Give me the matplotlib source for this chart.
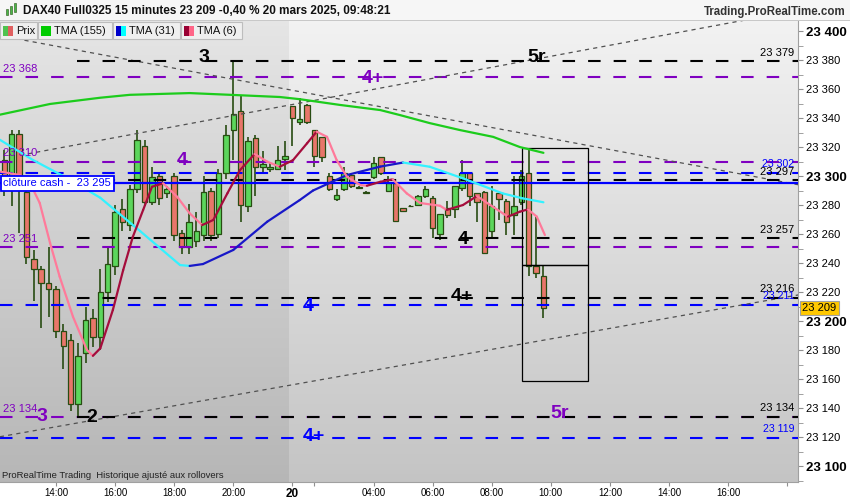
import numpy as np
import matplotlib.pyplot as plt
import matplotlib.transforms as mtransforms
from matplotlib.collections import LineCollection
from matplotlib.patches import Rectangle

plt.rcParams["font.family"] = ["Liberation Sans", "DejaVu Sans"]
plt.rcParams["lines.scale_dashes"] = False

# 15 minute candles, index 0 = 19 mars 12:15, index 39 = 20 mars 01:15
opens = [23311, 23292, 23329, 23289, 23243, 23236, 23226, 23222, 23193, 23187,
         23143, 23178, 23202, 23189, 23220, 23238, 23277, 23266, 23291, 23321,
         23282, 23300, 23288, 23300, 23261, 23251, 23255, 23259, 23290, 23260,
         23302, 23332, 23345, 23279, 23326, 23306, 23305, 23305, 23312, 23348,
         23337, 23349, 23332, 23327, 23300, 23284, 23291, 23301, 23292.5, 23288.7,
         23299, 23313, 23290, 23295, 23278, 23279.2, 23280, 23286, 23285, 23260,
         23278, 23277, 23292, 23302, 23288, 23289, 23262, 23288, 23283, 23273,
         23282, 23302, 23238, 23231]
highs = [23318, 23332, 23332, 23295, 23249, 23238, 23251, 23224, 23198, 23191,
         23185, 23210, 23208, 23236, 23252, 23280, 23284, 23294, 23332, 23325,
         23306, 23302, 23293, 23302, 23263, 23281, 23275, 23300, 23292, 23305,
         23335, 23379, 23355, 23327, 23328, 23317, 23309, 23321, 23324, 23348,
         23354, 23350, 23332, 23327, 23302, 23291, 23306, 23302, 23293, 23289.5,
         23313, 23313, 23300, 23296, 23278, 23280, 23287, 23293, 23286, 23274,
         23283, 23293, 23311, 23302, 23288, 23290, 23293, 23288, 23284, 23300,
         23304, 23319, 23272, 23238]
lows = [23286, 23279, 23261, 23239, 23214, 23195, 23203, 23188, 23167, 23138,
        23134, 23171, 23182, 23180, 23213, 23232, 23262, 23262, 23288, 23279,
        23280, 23280, 23285, 23255, 23246, 23246, 23251, 23255, 23255, 23257,
        23298, 23311, 23268, 23275, 23286, 23303, 23303, 23304, 23304, 23321,
        23335, 23336, 23306, 23310, 23290, 23283, 23290, 23292, 23291.5, 23288,
        23298, 23301, 23289, 23268, 23275, 23278.5, 23279, 23285, 23257, 23256,
        23271, 23271, 23290, 23279, 23268, 23246, 23257, 23270, 23259, 23259,
        23280, 23231, 23230, 23202]
closes = [23293, 23329, 23291, 23244, 23236, 23226, 23222, 23193, 23183, 23143,
          23176, 23201, 23189, 23220, 23239, 23275, 23268, 23291, 23325, 23282,
          23299, 23285, 23291, 23259, 23251, 23268, 23262, 23289, 23259, 23302,
          23328, 23343, 23280, 23324, 23306, 23308, 23306, 23311, 23314, 23340,
          23339, 23337, 23314, 23313, 23291, 23287, 23302, 23293, 23292, 23288.5,
          23309, 23302, 23295, 23269, 23276, 23279, 23286, 23291, 23264, 23274,
          23273, 23293, 23302, 23286, 23282, 23247, 23279, 23284, 23268, 23279,
          23300, 23238, 23233, 23209]

# moving averages (candle index, price)
tma155_x = [-0.6, 6.2, 13, 17, 25.1, 30.6, 37.3, 40, 45.5, 50.9, 53.6, 57.6, 61.7, 66.2, 69.8, 73]
tma155_y = [23342.3, 23349.7, 23354, 23356, 23357.2, 23356, 23354.5, 23353, 23349, 23345.5,
            23342, 23336.5, 23331.7, 23327, 23320, 23316]
tma31_x = [-0.6, 3.9, 8.5, 13, 18.4, 23.8, 25.1, 26.9, 31, 35.6, 40, 41.8, 46.4, 50.9, 54,
           57.6, 62.1, 67.5, 70.2, 73]
tma31_y = [23325, 23311, 23298.6, 23285, 23262, 23238.6, 23238, 23239.3, 23249, 23268.5,
           23283.4, 23290, 23300.7, 23306.5, 23309.3, 23306.4, 23298.4, 23288, 23284.6, 23281.9]
tma6_x = [-0.5, 2.1, 3.5, 4.8, 6.2, 7.5, 9.3, 11.2, 12, 13, 14.7, 16.1, 17.4, 18.8, 20, 21.5,
          23.4, 25.1, 26.8, 28.3, 30.2, 31.9, 33.9, 35.6, 37.3, 39.1, 41, 42.3, 43.7, 45, 46.4,
          48.2, 49.1, 50.9, 52.6, 54.5, 56.3, 59, 59.9, 62.1, 64, 65.8, 67.5, 68.2, 69.8, 70.9,
          72.1, 73.2]
tma6_y = [23303, 23300.7, 23295, 23281.4, 23253.8, 23230.6, 23203, 23180, 23176, 23181.2,
          23207.6, 23235.2, 23258, 23276.6, 23292.6, 23295, 23285.7, 23274.3, 23266.2, 23269.7,
          23288, 23304, 23315.2, 23309.9, 23306.4, 23311, 23322.6, 23330.6, 23327, 23311,
          23299.5, 23293.8, 23293.3, 23296, 23297.7, 23288, 23281.4, 23279.5, 23276.6, 23280,
          23286.2, 23280, 23274.3, 23272, 23275.4, 23277, 23272, 23259.3]

tick_pos = [7, 15, 23, 31, 39, 42, 50, 58, 66, 74, 82, 90, 98, 106]
tick_labels = ["14:00", "16:00", "18:00", "20:00", "20", "", "04:00", "06:00",
               "08:00", "10:00", "12:00", "14:00", "16:00", ""]

black_levels = [23379, 23297, 23257, 23216, 23134]
purple_levels = [23368, 23310, 23251, 23134]
blue_levels = [23302, 23211, 23119]
cash_close = 23295
last_price = 23209

# trend lines: (x0, y0, x1, y1)
trend_lines = [(3.2, 23315.3, 107.5, 23414.4),
               (-0.6, 23396.8, 107.5, 23294.0),
               (-0.6, 23120.2, 107.5, 23218.0)]

# wave labels: text, x, price, colour
wave_labels = [("3", 27, 23382, "black"), ("5r", 72.1, 23382, "black"),
               ("4+", 49.9, 23367.6, "#7f00c0"), ("4", 24.1, 23311, "#7f00c0"),
               ("4", 62.1, 23255.9, "black"), ("4+", 62, 23217, "black"),
               ("4", 41.1, 23210.3, "#0000ff"), ("2", 11.9, 23133.8, "black"),
               ("3", 5.1, 23134.5, "#7f00c0"), ("5r", 75.2, 23135.9, "#7f00c0"),
               ("4+", 41.9, 23120.7, "#0000ff")]

boxes = [(70.1, 23238.4, 79.1, 23319.1), (70.1, 23158.6, 79.1, 23238.4)]

PURPLE = "#7f00c0"
BLUE = "#0000ff"
XMIN, XMAX = -0.58, 107.47
YMIN, YMAX = 23089.0, 23407.6


def fmt(v):
    return f"{int(v) // 1000} {int(v) % 1000:03d}"


def two_color_line(ax, xs, ys, up, down, lw):
    pts = np.column_stack([xs, ys])
    segs = np.stack([pts[:-1], pts[1:]], axis=1)
    cols = [up if s[1][1] >= s[0][1] else down for s in segs]
    ax.add_collection(LineCollection(segs, colors=cols, linewidths=lw,
                                     capstyle="round", joinstyle="round", zorder=6))


def fig_rect(fig, x, y, w, h, **kw):
    fig.patches.append(Rectangle((x / 850, 1 - (y + h) / 500), w / 850, h / 500,
                                 transform=fig.transFigure, **kw))


def fig_text(fig, x, y, s, **kw):
    fig.text(x / 850, 1 - y / 500, s, **kw)


fig = plt.figure(figsize=(8.5, 5), dpi=100)
ax = fig.add_axes([0, 18 / 500, 798 / 850, 462 / 500])

# background: previous day slightly darker
t = np.linspace(0, 1, 200).reshape(-1, 1, 1)
for x0, x1, top, bot in [(XMIN, 38.5, 0.90, 0.715), (38.5, XMAX, 0.95, 0.77)]:
    img = np.repeat(top + (bot - top) * t, 3, axis=2) * np.ones((1, 2, 1))
    ax.imshow(img, extent=[x0, x1, YMIN, YMAX], aspect="auto", zorder=0,
              interpolation="bilinear")

# candles
for i in range(len(opens)):
    o, h, l, c = opens[i], highs[i], lows[i], closes[i]
    ax.vlines(i, l, h, color="#284c12", lw=1.2, zorder=3)
    up = c >= o
    ax.add_patch(Rectangle((i - 0.37, min(o, c)), 0.74, max(abs(c - o), 0.5),
                           facecolor="#5cd65c" if up else "#e8766a",
                           edgecolor="#284c12", lw=0.9, zorder=3.2))

# horizontal levels
dash = (0, (9, 9.4))
for lv in purple_levels:
    ax.hlines(lv, XMIN, XMAX, color=PURPLE, lw=1.5, linestyle=dash, zorder=4)
for lv in blue_levels:
    ax.hlines(lv, XMIN, XMAX, color=BLUE, lw=1.5, linestyle=dash, zorder=4)
for lv in black_levels:
    ax.hlines(lv, 9.8, XMAX, color="black", lw=1.5, linestyle=dash, zorder=4.1)
ax.axhline(cash_close, color=BLUE, lw=1.6, zorder=4.2)

for x0, y0, x1, y1 in trend_lines:
    ax.plot([x0, x1], [y0, y1], color="#505050", lw=0.9, linestyle=(0, (3, 3)), zorder=4)

for x0, y0, x1, y1 in boxes:
    ax.add_patch(Rectangle((x0, y0), x1 - x0, y1 - y0, fill=False,
                           edgecolor="black", lw=0.9, zorder=5))

# moving averages
ax.plot(tma155_x, tma155_y, color="#1ccc1c", lw=1.6, zorder=6, solid_capstyle="round")
two_color_line(ax, tma31_x, tma31_y, "#1818c8", "#33f2ff", 1.6)
two_color_line(ax, tma6_x, tma6_y, "#a50d3c", "#ff7a9a", 1.6)

for s, x, y, col in wave_labels:
    ax.text(x, y, s, color=col, fontsize=14, fontweight="bold",
            ha="center", va="center", zorder=7)

left = mtransforms.blended_transform_factory(ax.transAxes, ax.transData)
for lv in purple_levels:
    ax.annotate(fmt(lv), xy=(0, lv), xycoords=left, xytext=(2.5, 2.2),
                textcoords="offset points", color=PURPLE, fontsize=8, va="bottom",
                zorder=7)
for lv in black_levels:
    ax.annotate(fmt(lv), xy=(1, lv), xycoords=left, xytext=(-2.5, 2.5),
                textcoords="offset points", color="black", fontsize=8, va="bottom",
                ha="right", zorder=7)
for lv in blue_levels:
    ax.annotate(fmt(lv), xy=(1, lv), xycoords=left, xytext=(-2.5, 3.0),
                textcoords="offset points", color=BLUE, fontsize=7.6, va="bottom",
                ha="right", zorder=7)

ax.annotate("clôture cash -  " + fmt(cash_close), xy=(0, cash_close), xycoords=left,
            xytext=(2.5, 0), textcoords="offset points", color=BLUE, fontsize=8,
            va="center", zorder=8,
            bbox=dict(boxstyle="square,pad=0.22", facecolor="white", edgecolor=BLUE, lw=1.3))

ax.annotate(fmt(last_price), xy=(1, last_price), xycoords=left, xytext=(3, 0),
            textcoords="offset points", color="black", fontsize=8, va="center",
            annotation_clip=False, zorder=8,
            bbox=dict(boxstyle="square,pad=0.2", facecolor="#ffc800", edgecolor="#a0a0a0", lw=0.8))

ax.set_xlim(XMIN, XMAX)
ax.set_ylim(YMIN, YMAX)

# price axis
ax.yaxis.tick_right()
yt = list(range(23100, 23401, 20))
ax.set_yticks(yt)
ax.set_yticks(range(23090, 23401, 10), minor=True)
ax.set_yticklabels([fmt(v) for v in yt])
for lab, v in zip(ax.get_yticklabels(), yt):
    if v % 100 == 0:
        lab.set_fontweight("bold")
        lab.set_fontsize(9.5)
    else:
        lab.set_fontsize(8)
ax.tick_params(axis="y", which="both", length=3.5, color="#909090", pad=2.5)

# time axis
ax.set_xticks(tick_pos)
ax.set_xticklabels(tick_labels, fontsize=7, family=["Liberation Sans Narrow", "Liberation Sans"])
for lab in ax.get_xticklabels():
    if lab.get_text() == "20":
        lab.set_fontweight("bold")
        lab.set_fontsize(8.5)
ax.tick_params(axis="x", length=3, color="#909090", pad=1.5)

for side in ["top", "left"]:
    ax.spines[side].set_visible(False)
for side in ["right", "bottom"]:
    ax.spines[side].set_color("#a0a0a0")

# header
fig_rect(fig, 0, 0, 850, 20, facecolor="#f6f6f6", edgecolor="none", zorder=1)
fig_rect(fig, 0, 20, 850, 1, facecolor="#c8c8c8", edgecolor="none", zorder=1)
for k, (yy, hh) in enumerate([(9, 6), (6, 8), (3, 9)]):
    fig_rect(fig, 6 + k * 4, yy, 2, hh, facecolor="#48b848", edgecolor="#2b5216", lw=0.4, zorder=2)
fig_text(fig, 23, 11.5, "DAX40 Full0325 15 minutes 23 209 -0,40 % 20 mars 2025, 09:48:21",
         fontsize=8.5, fontweight="bold", va="center", color="#111111")
fig_text(fig, 846, 11.5, "Trading.ProRealTime.com", fontsize=8.3, fontweight="bold",
         va="center", ha="right", color="#333333")

# legend bar
legend = [(0, 37, "Prix", ["#4fc24f", "#e06060"]),
          (38, 74, "TMA (155)", ["#00cc00", "#00cc00"]),
          (113, 67, "TMA (31)", ["#0000cc", "#00ffff"]),
          (181, 61, "TMA (6)", ["#990033", "#ff6688"])]
for x, w, name, cols in legend:
    fig_rect(fig, x, 22, w, 17, facecolor="#efefef", edgecolor="#bdbdbd", lw=0.8, zorder=2)
    fig_rect(fig, x + 3, 26, 5, 9.5, facecolor=cols[0], edgecolor="none", zorder=3)
    fig_rect(fig, x + 8, 26, 5, 9.5, facecolor=cols[1], edgecolor="none", zorder=3)
    fig_text(fig, x + 16, 30.5, name, fontsize=8, va="center", color="#111111")

fig_text(fig, 2, 476, "ProRealTime Trading  Historique ajusté aux rollovers",
         fontsize=6.8, va="center", color="#222222")

fig.savefig("out.png", dpi=100, facecolor="white")
